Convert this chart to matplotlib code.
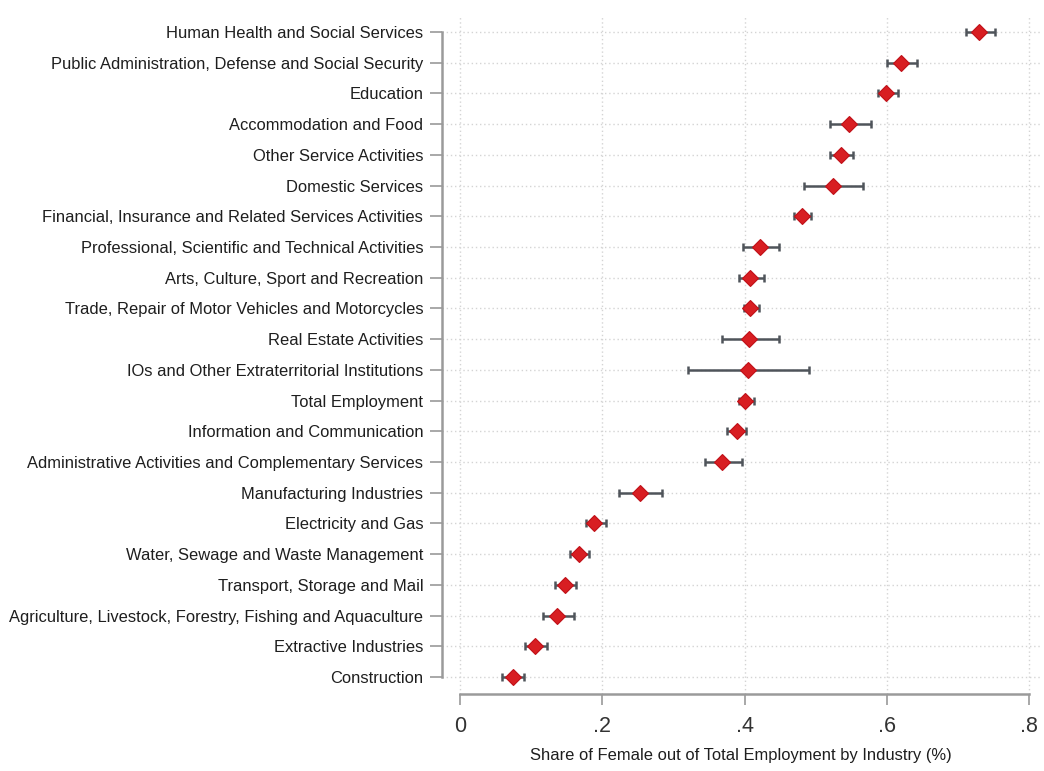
import matplotlib
matplotlib.use("Agg")
import matplotlib.pyplot as plt
import numpy as np

plt.rcParams['font.family'] = ['Liberation Sans', 'DejaVu Sans']

industries = [
    "Human Health and Social Services",
    "Public Administration, Defense and Social Security",
    "Education",
    "Accommodation and Food",
    "Other Service Activities",
    "Domestic Services",
    "Financial, Insurance and Related Services Activities",
    "Professional, Scientific and Technical Activities",
    "Arts, Culture, Sport and Recreation",
    "Trade, Repair of Motor Vehicles and Motorcycles",
    "Real Estate Activities",
    "IOs and Other Extraterritorial Institutions",
    "Total Employment",
    "Information and Communication",
    "Administrative Activities and Complementary Services",
    "Manufacturing Industries",
    "Electricity and Gas",
    "Water, Sewage and Waste Management",
    "Transport, Storage and Mail",
    "Agriculture, Livestock, Forestry, Fishing and Aquaculture",
    "Extractive Industries",
    "Construction",
]
share = [0.730, 0.620, 0.599, 0.547, 0.536, 0.525, 0.481, 0.422, 0.408, 0.408,
         0.407, 0.405, 0.401, 0.389, 0.368, 0.253, 0.189, 0.168, 0.147, 0.137,
         0.106, 0.074]
ci_low = [0.711, 0.601, 0.587, 0.520, 0.520, 0.484, 0.469, 0.398, 0.392, 0.399,
          0.369, 0.320, 0.392, 0.376, 0.344, 0.223, 0.177, 0.155, 0.134, 0.116,
          0.092, 0.059]
ci_high = [0.752, 0.642, 0.616, 0.578, 0.552, 0.567, 0.494, 0.449, 0.427, 0.420,
           0.448, 0.491, 0.413, 0.402, 0.396, 0.284, 0.205, 0.182, 0.163, 0.160,
           0.122, 0.090]
xticks = [0, 0.2, 0.4, 0.6, 0.8]
xticklabels = ["0", ".2", ".4", ".6", ".8"]
xlabel = "Share of Female out of Total Employment by Industry (%)"

W, H = 1044, 771
fig = plt.figure(figsize=(W / 100, H / 100), dpi=100)

# pixel layout
ax_left, ax_right = 442, 1040
ax_bottom, ax_top = 694, 15
x0_px, x8_px = 460, 1029
row_top, row_bot = 32, 677

ax = fig.add_axes([ax_left / W, (H - ax_bottom) / H,
                   (ax_right - ax_left) / W, (ax_bottom - ax_top) / H])

ppu = (x8_px - x0_px) / 0.8
ax.set_xlim((ax_left - x0_px) / ppu, (ax_right - x0_px) / ppu)
n = len(industries)
spacing = (row_bot - row_top) / (n - 1)
ax.set_ylim(-(ax_bottom - row_bot) / spacing, (n - 1) + (row_top - ax_top) / spacing)

ypos = np.arange(n)[::-1]
share_a = np.array(share)
err = np.vstack([share_a - np.array(ci_low), np.array(ci_high) - share_a])

# grid
for xt in xticks:
    ax.axvline(xt, color='#d4d4d4', lw=1.0, ls=(0, (1, 2)), zorder=0)
for y in ypos:
    ax.axhline(y, color='#d4d4d4', lw=1.0, ls=(0, (1, 2)), zorder=0)

ax.errorbar(share_a, ypos, xerr=err, fmt='none', ecolor='#4f545a',
            elinewidth=1.8, capsize=3.0, capthick=1.8, zorder=2)
ax.plot(share_a, ypos, linestyle='none', marker='D', markersize=8.5,
        markerfacecolor='#d81e22', markeredgecolor='#c01018',
        markeredgewidth=0.8, zorder=3)

ax.set_yticks(ypos)
ax.set_yticklabels(industries, fontsize=11.9, color='#1e1e1e')
ax.set_xticks(xticks)
ax.set_xticklabels(xticklabels, fontsize=15.5, color='#333333')
ax.set_xlabel(xlabel, fontsize=11.9, color='#1e1e1e', labelpad=8)

for s in ['top', 'right']:
    ax.spines[s].set_visible(False)
ax.spines['left'].set_bounds(0, n - 1)
ax.spines['bottom'].set_bounds(0, 0.8)
for s in ['left', 'bottom']:
    ax.spines[s].set_color('#9a9a9a')
    ax.spines[s].set_linewidth(1.8)
ax.tick_params(axis='y', length=8.5, width=1.2, color='#9a9a9a', pad=5)
ax.tick_params(axis='x', length=8, width=1.2, color='#9a9a9a', pad=8)
ax.patch.set_visible(False)

fig.savefig("out.png", dpi=100, facecolor='white')
